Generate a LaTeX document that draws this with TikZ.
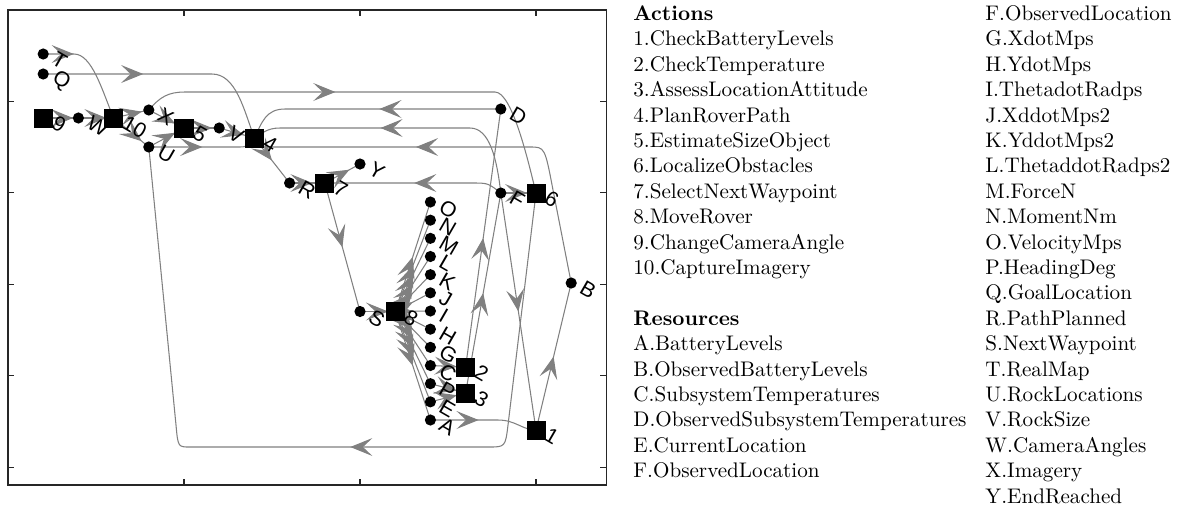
\documentclass[tikz,border=0pt]{standalone}
\usepackage{fontspec}
\newfontfamily\labfont{Liberation Sans}
\usetikzlibrary{arrows.meta,decorations.markings,backgrounds}
\definecolor{edgegray}{RGB}{128,128,128}
\definecolor{axcol}{RGB}{38,38,38}
\newcommand\nlab[2]{\node[lab] (l#1) at ([shift={(10.5,3)}]#1.center) {#2};}
\begin{document}
\begin{tikzpicture}[x=0.4734pt,y=-0.4734pt,
  sq/.style={rectangle,fill=black,minimum size=9pt,inner sep=0pt},
  dotn/.style={circle,fill=black,minimum size=5.3pt,inner sep=0pt},
  lab/.style={font=\labfont\fontsize{10}{12}\selectfont,rotate=-30,anchor=west,inner sep=0pt},
  conn/.style={color=edgegray,line width=0.5pt},
  arr/.style={postaction={decorate},decoration={markings,mark=at position #1 with {\arrow{Stealth[length=10.5pt,width=8.5pt,inset=4.5pt]}}}},
  legtxt/.style={anchor=base west,inner sep=0pt},
  tickln/.style={draw=axcol,line width=0.5pt}]
\useasboundingbox (0,0) rectangle (1177,511);
% axes box and ticks
\draw[tickln] (8,10) rectangle (606.4,485);
\foreach \tx in {184,360,536} {
  \draw[tickln] (\tx,10) -- (\tx,16);
  \draw[tickln] (\tx,485) -- (\tx,479);
}
\foreach \ty in {101.7,192.7,284.5,375.7,467.7} {
  \draw[tickln] (8,\ty) -- (14,\ty);
  \draw[tickln] (606.4,\ty) -- (600.4,\ty);
}
% nodes
\node[dotn] (T) at (43.2,54) {};
\node[dotn] (Q) at (43.2,74) {};
\node[sq] (n9) at (43.2,118) {};
\node[dotn] (W) at (78.4,118) {};
\node[sq] (n10) at (113.6,118) {};
\node[dotn] (X) at (148.8,110) {};
\node[dotn] (U) at (148.8,147) {};
\node[sq] (n5) at (184,128) {};
\node[dotn] (V) at (219.2,128) {};
\node[sq] (n4) at (254.4,138) {};
\node[dotn] (R) at (289.6,183) {};
\node[sq] (n7) at (324.8,183) {};
\node[dotn] (Y) at (360,164) {};
\node[dotn] (S) at (360,311.5) {};
\node[sq] (n8) at (395.2,311.5) {};
\foreach \nm [count=\i from 0] in {O,N,M,L,K,J,I,H,G,C,P,E,A} {
  \node[dotn] (\nm) at (430.4,{202+\i*18.1667}) {};
  \node[lab] (l\nm) at ([shift={(10.5,3)}]\nm.center) {\nm};
}
\node[sq] (n2) at (465.6,367) {};
\node[sq] (n3) at (465.6,393) {};
\node[dotn] (D) at (500.8,109) {};
\node[dotn] (F) at (500.8,193) {};
\node[sq] (n6) at (536,193) {};
\node[sq] (n1) at (536,430) {};
\node[dotn] (B) at (571.2,283) {};
% labels
\nlab{T}{T}\nlab{Q}{Q}\nlab{n9}{9}\nlab{W}{W}\nlab{n10}{10}\nlab{X}{X}\nlab{U}{U}
\nlab{n5}{5}\nlab{V}{V}\nlab{n4}{4}\nlab{R}{R}\nlab{n7}{7}\nlab{Y}{Y}\nlab{S}{S}
\nlab{n8}{8}\nlab{n2}{2}\nlab{n3}{3}\nlab{D}{D}\nlab{F}{F}\nlab{n6}{6}\nlab{n1}{1}\nlab{B}{B}
% edges
\begin{scope}[on background layer]
\draw[conn,arr=0.28] (T.center) -- (74,54) .. controls (92,54) and (102,90) .. (n10.center);
\draw[conn,arr=0.40] (Q.center) -- (212,74) .. controls (236,74) and (244,110) .. (n4.center);
\draw[conn,arr=0.85] (n9.center) -- (W.center);
\draw[conn,arr=0.8] (W.center) -- (n10.center);
\draw[conn,arr=0.8] (n10.center) -- (X.center);
\draw[conn,arr=0.8] (n10.center) -- (U.center);
\draw[conn,arr=0.75] (X.center) -- (n5.center);
\draw[conn,arr=0.75] (U.center) -- (n5.center);
\draw[conn,arr=0.415] (X.center) .. controls (160,97) and (168,92) .. (185,92) -- (495,92) .. controls (512,92) and (528,160) .. (n6.center);
\draw[conn,arr=0.49] (U.center) -- (236,147) .. controls (248,147) .. (n4.center);
\draw[conn,arr=0.8] (n5.center) -- (V.center);
\draw[conn,arr=0.7] (V.center) -- (n4.center);
\draw[conn,arr=0.465] (D.center) -- (285,109) .. controls (266,109) and (262,122) .. (n4.center);
\draw[conn,arr=0.565] (F.center) .. controls (497,160) and (490,128) .. (470,128) -- (280,128) .. controls (266,128) and (262,134) .. (n4.center);
\draw[conn,arr=0.614] (B.center) -- (553,190) .. controls (544.8,147) .. (530,147) -- (268,147) .. controls (260,147) .. (n4.center);
\draw[conn,arr=0.5] (n4.center) -- (R.center);
\draw[conn,arr=0.65] (R.center) -- (n7.center);
\draw[conn,arr=0.7] (n7.center) -- (Y.center);
\draw[conn,arr=0.5] (n7.center) -- (S.center);
\draw[conn,arr=0.5] (F.center) .. controls (488,183) .. (472,183) -- (n7.center);
\draw[conn,arr=0.8] (S.center) -- (n8.center);
\foreach \nm in {O,N,M,L,K,J,I,H,G,C,P,E,A} {
  \draw[conn,arr=0.5] (n8.center) -- (\nm.center);
}
\draw[conn,arr=0.75] (C.center) -- (n2.center);
\draw[conn,arr=0.75] (P.center) -- (n3.center);
\draw[conn,arr=0.75] (E.center) -- (n3.center);
\draw[conn,arr=0.5] (n2.center) -- (D.center);
\draw[conn,arr=0.5] (n3.center) -- (F.center);
\draw[conn,arr=0.45] (A.center) -- (498,420) .. controls (516,420) and (522,430) .. (n1.center);
\draw[conn,arr=0.5] (n1.center) -- (B.center);
\draw[conn,arr=0.5] (F.center) -- (n1.center);
\draw[conn,arr=0.75] (F.center) -- (n6.center);
\draw[conn,arr=0.464] (n6.center) -- (508,425) .. controls (505.3,447) .. (488,447) -- (190,447) .. controls (178,447) .. (176,425) -- (U.center);
\end{scope}
% legend
\foreach \txt [count=\i from 0] in {{\textbf{Actions}},{1.CheckBatteryLevels},{2.CheckTemperature},{3.AssessLocationAttitude},{4.PlanRoverPath},{5.EstimateSizeObject},{6.LocalizeObstacles},{7.SelectNextWaypoint},{8.MoveRover},{9.ChangeCameraAngle},{10.CaptureImagery},{},{\textbf{Resources}},{A.BatteryLevels},{B.ObservedBatteryLevels},{C.SubsystemTemperatures},{D.ObservedSubsystemTemperatures},{E.CurrentLocation},{F.ObservedLocation}} {
  \node[legtxt] (legA\i) at (633,{20.5+25.4*\i}) {\txt};
}
\foreach \txt [count=\i from 0] in {F.ObservedLocation,G.XdotMps,H.YdotMps,I.ThetadotRadps,J.XddotMps2,K.YddotMps2,L.ThetaddotRadps2,M.ForceN,N.MomentNm,O.VelocityMps,P.HeadingDeg,Q.GoalLocation,R.PathPlanned,S.NextWaypoint,T.RealMap,U.RockLocations,V.RockSize,W.CameraAngles,X.Imagery,Y.EndReached} {
  \node[legtxt] (legB\i) at (985,{20.5+25.4*\i}) {\txt};
}
\end{tikzpicture}
\end{document}
